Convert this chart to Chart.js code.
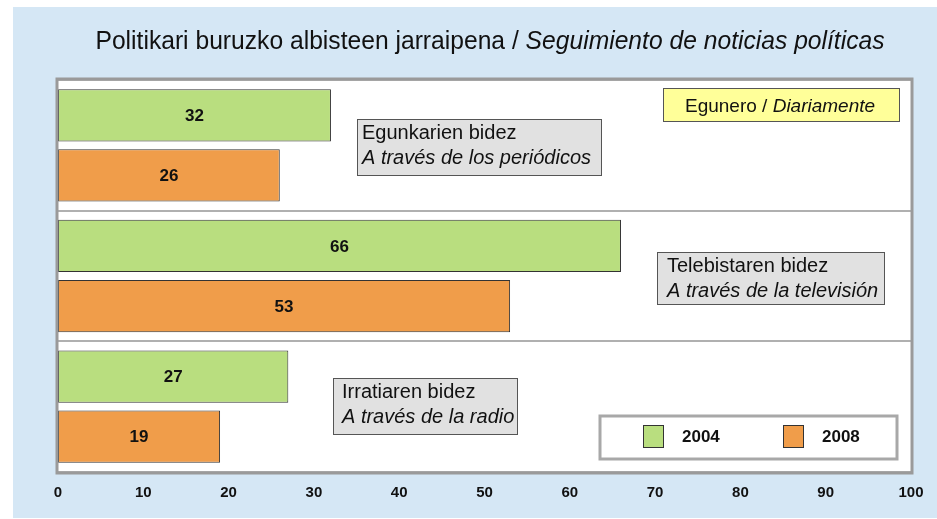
<!DOCTYPE html>
<html>
<head>
<meta charset="utf-8">
<script src="https://cdn.jsdelivr.net/npm/chart.js@4"></script>
<style>
  html, body { margin: 0; padding: 0; background: #ffffff; }
  #wrap { width: 937px; height: 519px; }
</style>
</head>
<body>
<div id="wrap"><canvas id="chart" width="937" height="519"></canvas></div>
<script>
// Data
const categories = ['Egunkarien bidez', 'Telebistaren bidez', 'Irratiaren bidez'];
const captionsEs = ['A través de los periódicos', 'A través de la televisión', 'A través de la radio'];
const seriesLabels = ['2004', '2008'];
const values2004 = [32, 66, 27];
const values2008 = [26, 53, 19];
const xTickValues = [0, 10, 20, 30, 40, 50, 60, 70, 80, 90, 100];

const titleEu = 'Politikari buruzko albisteen jarraipena / ';
const titleEs = 'Seguimiento de noticias políticas';
const noteEu = 'Egunero / ';
const noteEs = 'Diariamente';

const green = '#b9de7f';
const orange = '#f09d4a';
const panelBlue = '#d5e7f5';
const font = '"Liberation Sans", Arial, sans-serif';

// caption boxes next to each group (left, top, width, height, text x)
const captionBoxes = [
    { x: 357, y: 119, w: 244, h: 56, tx: 362 },
    { x: 657, y: 252, w: 227, h: 52, tx: 667 },
    { x: 333, y: 378, w: 184, h: 56, tx: 342 }
];

const decorPlugin = {
    id: 'decor',
    beforeDraw(chart) {
        const ctx = chart.ctx;
        const area = chart.chartArea;
        ctx.save();
        ctx.fillStyle = '#ffffff';
        ctx.fillRect(0, 0, chart.width, chart.height);
        ctx.fillStyle = panelBlue;
        ctx.fillRect(13, 7, chart.width - 13, chart.height - 8);
        ctx.fillStyle = '#ffffff';
        ctx.fillRect(area.left, area.top, area.right - area.left, area.bottom - area.top);

        // title, mixed upright and italic, slightly condensed
        ctx.fillStyle = '#111111';
        ctx.textBaseline = 'alphabetic';
        const scaleX = 0.93;
        ctx.font = '26.5px ' + font;
        const w1 = ctx.measureText(titleEu).width;
        ctx.font = 'italic 26.5px ' + font;
        const w2 = ctx.measureText(titleEs).width;
        const total = (w1 + w2) * scaleX;
        const startX = 490 - total / 2;
        ctx.translate(startX, 49);
        ctx.scale(scaleX, 1);
        ctx.font = '26.5px ' + font;
        ctx.fillText(titleEu, 0, 0);
        ctx.font = 'italic 26.5px ' + font;
        ctx.fillText(titleEs, w1, 0);
        ctx.restore();
    },
    afterDatasetsDraw(chart) {
        const ctx = chart.ctx;
        const area = chart.chartArea;
        ctx.save();

        // value labels inside bars
        ctx.fillStyle = '#111111';
        ctx.font = 'bold 17px ' + font;
        ctx.textAlign = 'center';
        ctx.textBaseline = 'middle';
        chart.data.datasets.forEach((ds, i) => {
            chart.getDatasetMeta(i).data.forEach((bar, j) => {
                const cx = (bar.base + bar.x) / 2;
                ctx.fillText(String(ds.data[j]), cx, bar.y + 1);
            });
        });

        // plot frame
        ctx.strokeStyle = '#9a9a9a';
        ctx.lineWidth = 3;
        ctx.strokeRect(area.left - 1, area.top - 1, area.right - area.left + 2, area.bottom - area.top + 2);

        // caption boxes
        ctx.textAlign = 'left';
        ctx.textBaseline = 'alphabetic';
        captionBoxes.forEach((b, i) => {
            ctx.fillStyle = '#e1e1e1';
            ctx.fillRect(b.x, b.y, b.w, b.h);
            ctx.strokeStyle = '#555555';
            ctx.lineWidth = 1;
            ctx.strokeRect(b.x + 0.5, b.y + 0.5, b.w, b.h);
            ctx.fillStyle = '#111111';
            ctx.font = '20px ' + font;
            ctx.fillText(categories[i], b.tx, b.y + 20);
            ctx.font = 'italic 20px ' + font;
            ctx.fillText(captionsEs[i], b.tx, b.y + 45);
        });

        // yellow note box
        ctx.fillStyle = '#ffff99';
        ctx.fillRect(663, 88, 236, 33);
        ctx.strokeStyle = '#555555';
        ctx.lineWidth = 1;
        ctx.strokeRect(663.5, 88.5, 236, 33);
        ctx.fillStyle = '#111111';
        ctx.font = '19px ' + font;
        ctx.fillText(noteEu, 685, 112);
        const nw = ctx.measureText(noteEu).width;
        ctx.font = 'italic 19px ' + font;
        ctx.fillText(noteEs, 685 + nw, 112);

        // legend box
        ctx.fillStyle = '#ffffff';
        ctx.fillRect(599, 415, 299, 45);
        ctx.strokeStyle = '#a8a8a8';
        ctx.lineWidth = 3;
        ctx.strokeRect(600, 416, 297, 43);
        const swatchX = [643, 783];
        const colors = [green, orange];
        ctx.font = 'bold 17px ' + font;
        ctx.textBaseline = 'middle';
        seriesLabels.forEach((lab, i) => {
            ctx.fillStyle = colors[i];
            ctx.fillRect(swatchX[i], 425, 20, 22);
            ctx.strokeStyle = '#333333';
            ctx.lineWidth = 1;
            ctx.strokeRect(swatchX[i] + 0.5, 425.5, 20, 22);
            ctx.fillStyle = '#111111';
            ctx.fillText(lab, swatchX[i] + 39, 437);
        });
        ctx.restore();
    }
};

new Chart(document.getElementById('chart'), {
    type: 'bar',
    data: {
        labels: categories,
        datasets: [{
            label: seriesLabels[0],
            data: values2004,
            backgroundColor: green,
            borderColor: '#333333',
            borderWidth: 1,
            borderSkipped: false,
            categoryPercentage: 0.92,
            barPercentage: 0.87
        }, {
            label: seriesLabels[1],
            data: values2008,
            backgroundColor: orange,
            borderColor: '#333333',
            borderWidth: 1,
            borderSkipped: false,
            categoryPercentage: 0.92,
            barPercentage: 0.87
        }]
    },
    options: {
        indexAxis: 'y',
        responsive: false,
        animation: false,
        layout: { padding: { left: 58, right: 26, top: 80, bottom: 13 } },
        plugins: {
            legend: { display: false },
            tooltip: { enabled: false },
            title: { display: false }
        },
        scales: {
            x: {
                min: 0,
                max: 100,
                afterBuildTicks: (axis) => { axis.ticks = xTickValues.map(v => ({ value: v })); },
                grid: { display: false },
                border: { display: false },
                ticks: {
                    color: '#111111',
                    font: { family: font, size: 15, weight: 'bold' },
                    padding: 4,
                    maxRotation: 0
                }
            },
            y: {
                grid: { color: '#b0b0b0', lineWidth: 2, drawTicks: false, offset: true },
                border: { display: false },
                ticks: { display: false }
            }
        }
    },
    plugins: [decorPlugin]
});
</script>
</body>
</html>
